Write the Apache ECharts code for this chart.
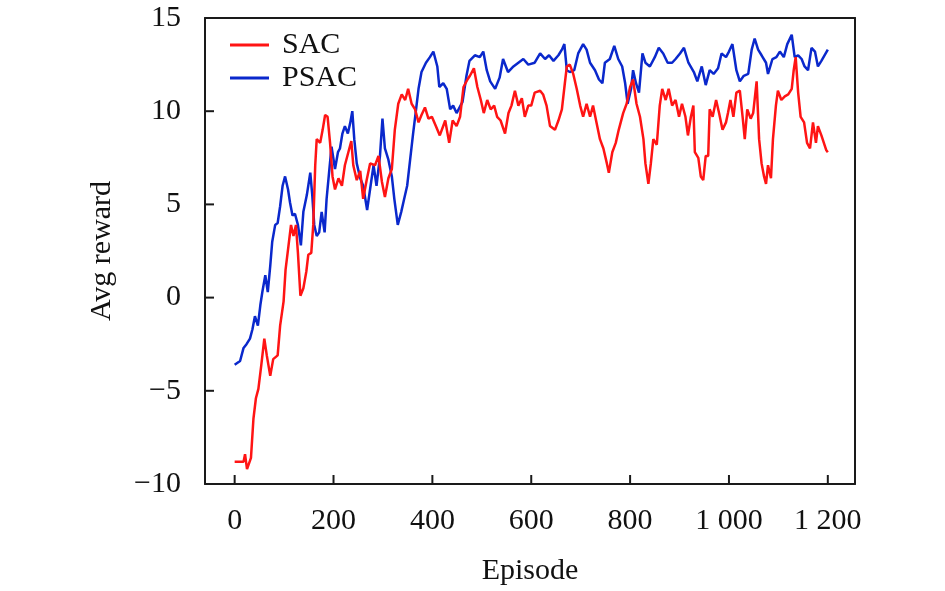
<!DOCTYPE html>
<html>
<head>
<meta charset="utf-8">
<script src="https://cdn.jsdelivr.net/npm/echarts@6/dist/echarts.min.js"></script>
<style>
  html, body { margin: 0; padding: 0; background: #fff; }
  #main { width: 945px; height: 591px; }
</style>
</head>
<body>
<div id="main"></div>
<script>
// values
var xTicks = [0, 200, 400, 600, 800, 1000, 1200];
var yTicks = [-10, -5, 0, 5, 10, 15];

var sacEpisode = [0, 10, 18, 21, 25, 29, 33, 38, 43, 48, 54, 60, 65, 72, 78, 87, 92, 99, 103, 109,
    114, 119, 124, 128, 133, 139, 145, 149, 155, 159, 163, 166, 173, 178, 183, 188, 193, 198, 203, 210,
    217, 223, 230, 236, 240, 247, 254, 260, 267, 274, 284, 291, 298, 304, 311, 318, 324, 331, 338, 345,
    351, 358, 365, 372, 378, 385, 392, 399, 407, 415, 426, 434, 441, 449, 456, 463, 471, 476, 484, 491,
    498, 504, 511, 518, 525, 531, 538, 547, 554, 560, 567, 574, 581, 587, 594, 600, 607, 618, 624, 631,
    638, 648, 655, 662, 668, 672, 678, 685, 692, 699, 705, 712, 719, 725, 732, 739, 746, 753, 757, 764,
    771, 777, 786, 793, 800, 806, 813, 820, 827, 831, 837, 842, 847, 854, 860, 865, 872, 878, 885, 892,
    899, 905, 912, 917, 923, 928, 931, 938, 943, 948, 953, 958, 961, 967, 974, 980, 987, 994, 998, 1003,
    1009, 1015, 1022, 1028, 1032, 1037, 1044, 1049, 1056, 1061, 1066, 1071, 1075, 1079, 1085, 1089, 1095, 1099, 1106, 1113,
    1120, 1127, 1131, 1135, 1140, 1145, 1152, 1158, 1164, 1170, 1176, 1180, 1187, 1197, 1200];
var sacReward = [-8.8, -8.8, -8.8, -8.4, -9.2, -9.3, -8.6, -6.5, -5.4, -4.9, -3.6, -2.2, -3.1, -4.2, -3.3, -3.1, -1.5, -0.2, 1.5, 2.8,
    3.9, 3.3, 3.9, 2.4, 0.1, 0.5, 1.4, 2.3, 2.4, 3.9, 7.1, 8.5, 8.3, 9.0, 9.8, 9.7, 8.3, 6.5, 5.8, 6.4,
    6.0, 7.1, 7.8, 8.4, 7.1, 6.3, 6.8, 5.3, 6.3, 7.2, 7.1, 7.6, 6.2, 5.4, 6.4, 6.9, 9.0, 10.4, 10.9, 10.6,
    11.2, 10.4, 10.1, 9.4, 9.8, 10.2, 9.6, 9.7, 9.2, 8.7, 9.5, 8.3, 9.5, 9.2, 9.7, 11.3, 11.7, 11.9, 12.3, 11.3,
    10.6, 9.9, 10.6, 10.1, 10.3, 9.7, 9.5, 8.8, 9.9, 10.3, 11.1, 10.3, 10.7, 9.7, 10.3, 10.3, 11.0, 11.1, 10.9, 10.3,
    9.2, 9.0, 9.5, 10.1, 11.5, 12.4, 12.5, 12.0, 11.2, 10.3, 9.7, 10.4, 9.7, 10.3, 9.4, 8.5, 8.0, 7.2, 6.7, 7.8,
    8.3, 9.0, 9.9, 10.4, 11.3, 11.7, 10.4, 9.7, 8.5, 7.2, 6.1, 7.2, 8.5, 8.2, 10.3, 11.2, 10.6, 11.2, 10.3, 10.6,
    9.7, 10.4, 9.7, 8.7, 9.7, 10.3, 7.8, 7.5, 6.5, 6.3, 7.6, 7.6, 10.1, 9.7, 10.6, 9.9, 9.0, 9.4, 9.9, 10.6,
    9.7, 11.0, 11.1, 9.6, 8.5, 10.1, 9.6, 9.9, 11.6, 8.5, 7.2, 6.5, 6.1, 7.1, 6.4, 8.5, 10.3, 11.1, 10.6, 10.8,
    10.9, 11.2, 12.2, 12.9, 11.0, 9.7, 9.4, 8.3, 8.0, 9.4, 8.3, 9.2, 8.7, 7.9, 7.8];

var psacEpisode = [0, 11, 14, 18, 24, 31, 36, 41, 47, 52, 56, 62, 67, 72, 76, 82, 87, 92, 97, 102,
    108, 112, 117, 122, 128, 134, 139, 146, 153, 157, 161, 166, 171, 176, 182, 186, 191, 196, 203, 209,
    213, 218, 223, 229, 234, 238, 242, 247, 254, 260, 268, 275, 281, 287, 294, 299, 304, 311, 318, 323,
    330, 337, 343, 349, 355, 361, 367, 372, 378, 387, 395, 402, 410, 414, 422, 429, 436, 442, 449, 457,
    461, 469, 475, 486, 496, 503, 510, 517, 527, 536, 543, 553, 564, 574, 584, 594, 607, 618, 628, 636,
    645, 655, 662, 667, 672, 678, 687, 695, 705, 712, 719, 729, 737, 744, 749, 759, 768, 776, 784, 790,
    795, 802, 806, 812, 818, 825, 831, 840, 850, 858, 867, 876, 885, 892, 901, 909, 918, 929, 936, 945,
    953, 961, 969, 978, 985, 994, 1000, 1007, 1015, 1022, 1030, 1039, 1046, 1052, 1059, 1066, 1075, 1079, 1088, 1096,
    1103, 1111, 1118, 1127, 1133, 1140, 1147, 1153, 1160, 1167, 1174, 1180, 1187, 1200];
var psacReward = [-3.6, -3.4, -3.3, -2.7, -2.5, -2.2, -1.7, -1.0, -1.5, -0.4, 0.3, 1.2, 0.3, 1.7, 3.0, 3.9, 4.0, 4.9, 6.0, 6.5,
    5.8, 5.1, 4.4, 4.5, 3.9, 2.8, 4.6, 5.5, 6.7, 5.5, 3.9, 3.3, 3.5, 4.6, 3.5, 5.3, 6.7, 8.1, 6.9, 7.8,
    8.0, 8.8, 9.2, 8.8, 9.4, 10.0, 8.5, 7.2, 6.4, 6.0, 4.7, 6.0, 7.1, 6.0, 7.6, 9.6, 8.0, 7.4, 6.5, 5.3,
    3.9, 4.6, 5.3, 6.0, 7.4, 8.8, 10.1, 11.2, 12.1, 12.6, 12.9, 13.2, 12.4, 11.3, 11.5, 11.2, 10.1, 10.3, 9.9, 10.3,
    10.5, 11.9, 12.7, 13.0, 12.9, 13.2, 12.2, 11.6, 11.2, 11.8, 12.8, 12.1, 12.4, 12.6, 12.8, 12.5, 12.6, 13.1, 12.8, 13.0,
    12.7, 13.0, 13.3, 13.6, 12.2, 12.1, 12.2, 13.1, 13.6, 13.3, 12.6, 12.2, 11.7, 11.5, 12.6, 12.8, 13.5, 12.8, 12.4, 11.5,
    10.4, 11.2, 12.2, 11.5, 11.0, 13.1, 12.6, 12.4, 12.9, 13.4, 13.1, 12.6, 12.6, 12.8, 13.1, 13.4, 12.6, 12.1, 11.6, 12.4,
    11.4, 12.2, 12.0, 12.3, 13.1, 12.9, 13.2, 13.6, 12.2, 11.6, 11.9, 12.0, 13.3, 13.9, 13.3, 13.0, 12.6, 12.0, 12.8, 12.9,
    13.2, 12.9, 13.6, 14.1, 12.9, 13.0, 12.8, 12.4, 12.2, 13.4, 13.2, 12.4, 12.7, 13.3];

var X_MIN = -60, X_MAX = 1255, Y_MIN = -10, Y_MAX = 15;
var TICK_LEN = 9;

function pairs(xs, ys) {
    var out = [];
    for (var i = 0; i < xs.length; i++) {
        out.push([xs[i], ys[i]]);
    }
    return out;
}

var FONT = "'Liberation Serif', 'Times New Roman', serif";
var AXIS_COLOR = '#1a1a1a';

var myChart = echarts.init(document.getElementById('main'));

// plain frame axis for the top and right edges
function frameAxis(extra) {
    return Object.assign({
        type: 'value',
        axisLine: { show: true, onZero: false, lineStyle: { color: AXIS_COLOR, width: 2 } },
        axisTick: { show: false },
        axisLabel: { show: false },
        splitLine: { show: false }
    }, extra);
}

// inward tick marks, placed through the axis scales
function tickSeries(values, horizontal) {
    return {
        type: 'custom',
        silent: true,
        clip: false,
        z: 5,
        data: values.map(function (v) { return horizontal ? [v, Y_MIN] : [X_MIN, v]; }),
        renderItem: function (params, api) {
            var p = api.coord([api.value(0), api.value(1)]);
            var end = horizontal ? [p[0], p[1] - TICK_LEN] : [p[0] + TICK_LEN, p[1]];
            return {
                type: 'line',
                shape: { x1: p[0], y1: p[1], x2: end[0], y2: end[1] },
                style: { stroke: AXIS_COLOR, lineWidth: 2 }
            };
        }
    };
}

var option = {
    animation: false,
    backgroundColor: '#fff',
    textStyle: { fontFamily: FONT },
    grid: {
        left: 205,
        right: 90,
        top: 18,
        bottom: 105
    },
    legend: {
        orient: 'vertical',
        left: 225,
        top: 25,
        icon: 'rect',
        itemWidth: 39,
        itemHeight: 3,
        itemGap: 3,
        data: ['SAC', 'PSAC'],
        textStyle: {
            fontFamily: FONT,
            fontSize: 30,
            color: '#111',
            padding: [0, 0, 0, 8]
        }
    },
    xAxis: [
        {
            type: 'value',
            position: 'bottom',
            min: X_MIN,
            max: X_MAX,
            name: 'Episode',
            nameLocation: 'middle',
            nameGap: 72,
            nameTextStyle: { fontFamily: FONT, fontSize: 30, color: '#111' },
            axisLine: { show: true, onZero: false, lineStyle: { color: AXIS_COLOR, width: 2 } },
            axisTick: { show: false },
            axisLabel: {
                margin: 22,
                fontFamily: FONT,
                fontSize: 30,
                color: '#111',
                customValues: xTicks,
                formatter: function (value) {
                    return value >= 1000 ? Math.floor(value / 1000) + ' ' + String(value % 1000).padStart(3, '0') : String(value);
                }
            },
            splitLine: { show: false }
        },
        frameAxis({ position: 'top', min: X_MIN, max: X_MAX })
    ],
    yAxis: [
        {
            type: 'value',
            position: 'left',
            min: Y_MIN,
            max: Y_MAX,
            interval: 5,
            name: 'Avg reward',
            nameLocation: 'middle',
            nameGap: 88,
            nameTextStyle: { fontFamily: FONT, fontSize: 30, color: '#111' },
            axisLine: { show: true, onZero: false, lineStyle: { color: AXIS_COLOR, width: 2 } },
            axisTick: { show: false },
            axisLabel: {
                margin: 24,
                fontFamily: FONT,
                fontSize: 30,
                color: '#111',
                formatter: function (value) {
                    return String(value).replace('-', '\u2212');
                }
            },
            splitLine: { show: false }
        },
        frameAxis({ position: 'right', min: Y_MIN, max: Y_MAX })
    ],
    series: [
        {
            name: 'PSAC',
            type: 'line',
            symbol: 'none',
            data: pairs(psacEpisode, psacReward),
            lineStyle: { color: '#0a28cc', width: 2.5 },
            itemStyle: { color: '#0a28cc' }
        },
        {
            name: 'SAC',
            type: 'line',
            symbol: 'none',
            data: pairs(sacEpisode, sacReward),
            lineStyle: { color: '#ff1414', width: 2.5 },
            itemStyle: { color: '#ff1414' }
        },
        tickSeries(xTicks, true),
        tickSeries(yTicks, false)
    ]
};

myChart.setOption(option);
</script>
</body>
</html>
